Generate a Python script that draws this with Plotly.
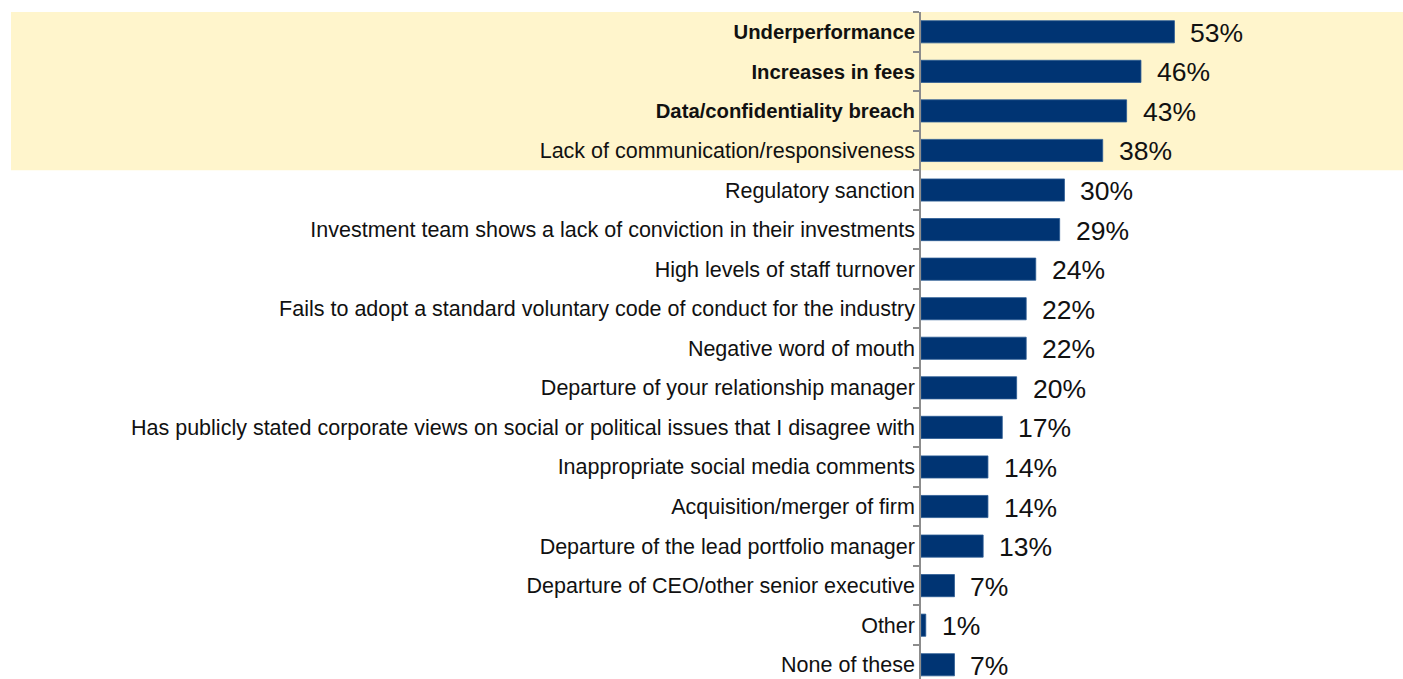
import plotly.graph_objects as go

categories = [
    "Underperformance",
    "Increases in fees",
    "Data/confidentiality breach",
    "Lack of communication/responsiveness",
    "Regulatory sanction",
    "Investment team shows a lack of conviction in their investments",
    "High levels of staff turnover",
    "Fails to adopt a standard voluntary code of conduct for the industry",
    "Negative word of mouth",
    "Departure of your relationship manager",
    "Has publicly stated corporate views on social or political issues that I disagree with",
    "Inappropriate social media comments",
    "Acquisition/merger of firm",
    "Departure of the lead portfolio manager",
    "Departure of CEO/other senior executive",
    "Other",
    "None of these",
]
values = [53, 46, 43, 38, 30, 29, 24, 22, 22, 20, 17, 14, 14, 13, 7, 1, 7]
bold_labels = ["Underperformance", "Increases in fees", "Data/confidentiality breach"]
highlighted = categories[:4]

ticktext = [f"<span style='font-size:20.3px'><b>{c}</b></span>" if c in bold_labels else c
            for c in categories]

W, H = 1403, 679
L, T = 921, 12
plot_w = W - L

fig = go.Figure()
fig.add_trace(go.Bar(
    x=values, y=categories, orientation="h",
    marker=dict(color="#003473", line=dict(color="#2a5a93", width=0.8)),
    width=0.56, hoverinfo="x+y",
))

for c, v in zip(categories, values):
    fig.add_annotation(x=v, y=c, text=f"{v}%", showarrow=False,
                       xanchor="left", yanchor="middle", xshift=14, yshift=-1,
                       font=dict(family="Liberation Sans, Arial", size=26.5, color="#111111"))

n = len(categories)
fig.add_shape(type="rect", xref="paper", yref="y",
              x0=(11 - L) / plot_w, x1=1.0,
              y0=-0.5, y1=len(highlighted) - 0.5,
              fillcolor="#FFF5CC", line=dict(width=0), layer="below")

fig.update_layout(
    width=W, height=H,
    margin=dict(l=L, r=0, t=T, b=0),
    paper_bgcolor="white", plot_bgcolor="rgba(0,0,0,0)",
    showlegend=False,
    xaxis=dict(range=[0, 100.8], visible=False, showgrid=False, zeroline=False),
    yaxis=dict(
        type="category",
        categoryorder="array", categoryarray=categories,
        range=[n - 0.64, -0.5],
        tickmode="array", tickvals=categories, ticktext=ticktext,
        tickson="boundaries", ticks="outside", ticklen=6, tickcolor="#8c8c8c", tickwidth=1.5,
        showline=True, linecolor="#8c8c8c", linewidth=1.5,
        showgrid=False, zeroline=False,
        tickfont=dict(family="Liberation Sans, Arial", size=21.5, color="#111111"),
    ),
)

fig.write_html("out.html",
               config={"displayModeBar": False},
               post_script="document.body.style.margin='0';document.body.style.overflow='hidden';")
